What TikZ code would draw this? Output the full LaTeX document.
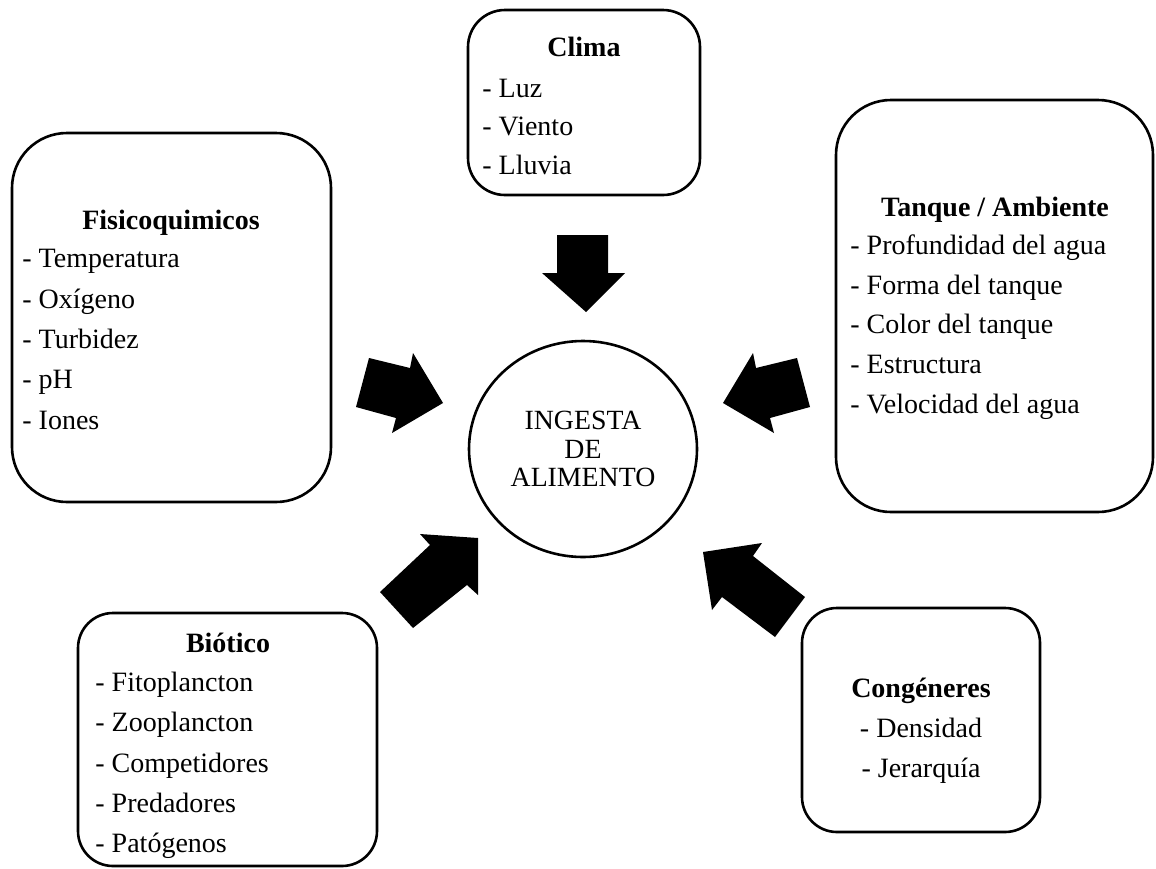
\documentclass[tikz,border=0pt]{standalone}
\usepackage{fontspec}
\setmainfont{Liberation Serif}
\usetikzlibrary{fit,shapes.geometric}
\begin{document}
\begin{tikzpicture}[x=0.5pt,y=-0.5pt,
  factorbox/.style={draw, line width=1.3pt, rounded corners=#1, inner sep=0pt},
  ttl/.style={font=\bfseries\fontsize{14}{17}\selectfont, anchor=base, inner sep=0pt},
  itm/.style={font=\fontsize{14}{17}\selectfont, anchor=base west, inner sep=0pt},
  itmc/.style={font=\fontsize{14}{17}\selectfont, anchor=base, inner sep=0pt},
  blockarrow/.style={fill=black}]
\useasboundingbox (0,0) rectangle (1156,868);

% centre
\node[draw, line width=1.3pt, ellipse, minimum width=114pt, minimum height=108pt, inner sep=0pt,
      align=center, font=\fontsize{13.9}{14.3}\selectfont] (ingesta) at (583,449) {INGESTA\\DE\\ALIMENTO};

% Clima
\node[factorbox=18.5pt, fit={(468,10) (700,195)}] (clima) {};
\node[ttl] (climaT) at (584,56) {Clima};
\node[itm] (clima1) at (482,97) {- Luz};
\node[itm] (clima2) at (482,135) {- Viento};
\node[itm] (clima3) at (482,174) {- Lluvia};

% Fisicoquimicos
\node[factorbox=27.5pt, fit={(12,133) (331,502)}] (fisico) {};
\node[ttl] (fisicoT) at (171,229) {Fisicoquimicos};
\node[itm] (fisico1) at (22,267) {- Temperatura};
\node[itm] (fisico2) at (22,308) {- Oxígeno};
\node[itm] (fisico3) at (22,348) {- Turbidez};
\node[itm] (fisico4) at (22,388) {- pH};
\node[itm] (fisico5) at (22,429) {- Iones};

% Tanque / Ambiente
\node[factorbox=27.5pt, fit={(836,100) (1153,512)}] (tanque) {};
\node[ttl] (tanqueT) at (995,216) {Tanque / Ambiente};
\node[itm] (tanque1) at (850,254) {- Profundidad del agua};
\node[itm] (tanque2) at (850,294) {- Forma del tanque};
\node[itm] (tanque3) at (850,333) {- Color del tanque};
\node[itm] (tanque4) at (850,373) {- Estructura};
\node[itm] (tanque5) at (850,413) {- Velocidad del agua};

% Biotico
\node[factorbox=17.5pt, fit={(78,613) (377,866)}] (biotico) {};
\node[ttl] (bioticoT) at (228,652) {Biótico};
\node[itm] (biotico1) at (95,691) {- Fitoplancton};
\node[itm] (biotico2) at (95,731) {- Zooplancton};
\node[itm] (biotico3) at (95,772) {- Competidores};
\node[itm] (biotico4) at (95,812) {- Predadores};
\node[itm] (biotico5) at (95,852) {- Patógenos};

% Congeneres
\node[factorbox=17.5pt, fit={(802,608) (1040,832)}] (congeneres) {};
\node[ttl] (congeneresT) at (921,697) {Congéneres};
\node[itmc] (congeneres1) at (921,737) {- Densidad};
\node[itmc] (congeneres2) at (921,777) {- Jerarquía};

% block arrows
\fill[blockarrow] (557,235) -- (608,235) -- (608,273) -- (625,273) -- (586,312) -- (542,273) -- (557,273) -- cycle;
\fill[blockarrow] (369,358) -- (410,368) -- (413,353) -- (443,403) -- (392,433) -- (396,418) -- (356,407) -- cycle;
\fill[blockarrow] (797,358) -- (756,368) -- (753,353) -- (723,403) -- (774,433) -- (770,418) -- (810,407) -- cycle;
\fill[blockarrow] (478,538) -- (420,534) -- (430,545) -- (380,592) -- (413,628) -- (467,585) -- (478,595) -- cycle;
\fill[blockarrow] (703,552) -- (762,543) -- (753,556) -- (805,597) -- (775,637) -- (722,597) -- (712,610) -- cycle;
\end{tikzpicture}
\end{document}
